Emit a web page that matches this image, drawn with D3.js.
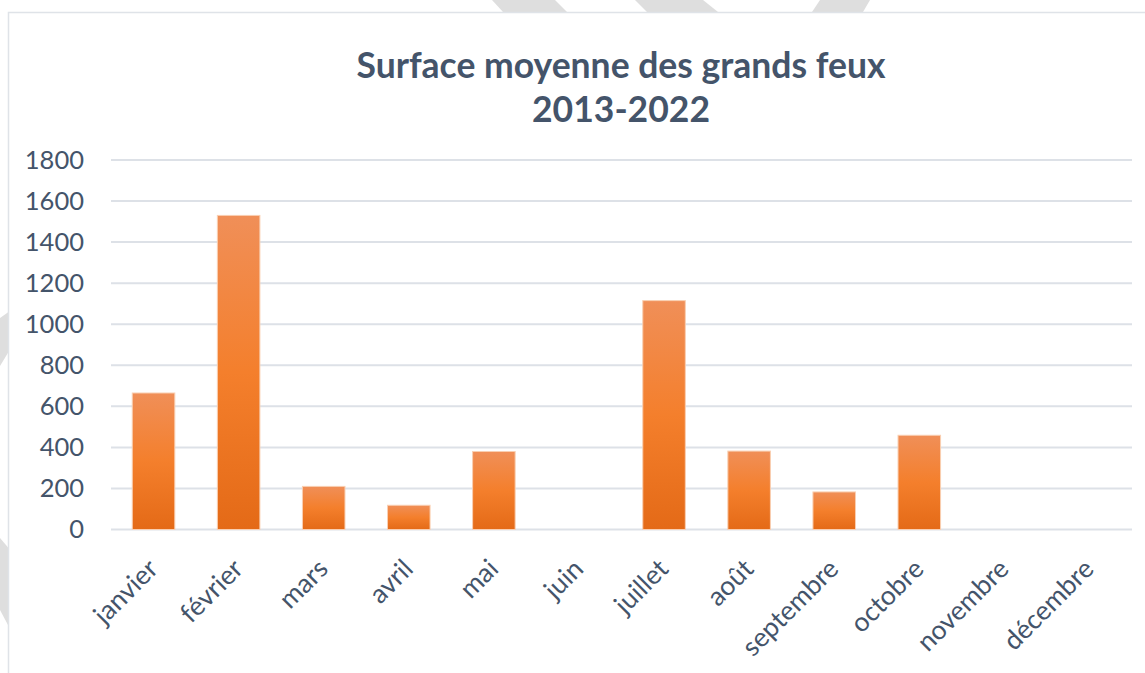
<!DOCTYPE html>
<html>
<head>
<meta charset="utf-8">
<script src="https://cdn.jsdelivr.net/npm/d3@7"></script>
<style>
  html, body { margin: 0; padding: 0; background: #ffffff; }
  svg { display: block; }
  text { font-family: Lato, "Open Sans", sans-serif; }
</style>
</head>
<body>
<svg id="chart" width="1145" height="673"></svg>
<script>
// Surface moyenne des grands feux par mois, 2013-2022
const months = ["janvier", "février", "mars", "avril", "mai", "juin",
                "juillet", "août", "septembre", "octobre", "novembre", "décembre"];
const surfaces = [665, 1530, 210, 118, 380, 0, 1115, 382, 183, 459, 0, 0];
const yTicks = [0, 200, 400, 600, 800, 1000, 1200, 1400, 1600, 1800];
const titleLines = ["Surface moyenne des grands feux", "2013-2022"];

const W = 1145, H = 673;
const textColor = "#44546a";
const gridColor = "#dde1e7";

const svg = d3.select("#chart");

// Background decoration: grey diagonal strokes around the chart frame
const deco = [
  [[492, 0], [555, 0], [567, 12], [503, 12]],
  [[635, 0], [703, 0], [718, 12], [647, 12]],
  [[820, 0], [870, 0], [863, 12], [812, 12]],
  [[0, 318], [8.5, 312], [8.5, 352], [0, 366]],
  [[0, 538], [8.5, 548], [8.5, 626], [0, 610]]
];
svg.append("g").selectAll("path").data(deco).join("path")
  .attr("d", d => "M" + d.map(p => p.join(",")).join("L") + "Z")
  .attr("fill", "#dedede");

// Chart frame
svg.append("rect")
  .attr("x", 8.5).attr("y", 12.5)
  .attr("width", W + 20).attr("height", H + 20)
  .attr("fill", "#ffffff")
  .attr("stroke", "#dfe3e8").attr("stroke-width", 1.5);

// Bar gradient
const defs = svg.append("defs");
const grad = defs.append("linearGradient")
  .attr("id", "barGrad").attr("x1", 0).attr("y1", 0).attr("x2", 0).attr("y2", 1);
grad.append("stop").attr("offset", "0%").attr("stop-color", "#f08f58");
grad.append("stop").attr("offset", "50%").attr("stop-color", "#f47f2c");
grad.append("stop").attr("offset", "100%").attr("stop-color", "#e46a17");

const x = d3.scaleBand()
  .domain(months)
  .range([111, 1132])
  .paddingInner(0.5)
  .paddingOuter(0.25);

const y = d3.scaleLinear()
  .domain([0, 1800])
  .range([529.5, 160]);

// Gridlines
svg.append("g").selectAll("line").data(yTicks).join("line")
  .attr("x1", 111).attr("x2", 1132)
  .attr("y1", d => y(d)).attr("y2", d => y(d))
  .attr("stroke", gridColor).attr("stroke-width", 2);

// Y axis labels
const yAxis = svg.append("g")
  .attr("transform", "translate(84,0)")
  .call(d3.axisLeft(y).tickValues(yTicks).tickSize(0).tickPadding(0).tickFormat(d3.format("d")));
yAxis.select(".domain").remove();
yAxis.selectAll("text")
  .attr("fill", textColor)
  .style("font-size", "25.5px")
  .style("font-family", "Lato, sans-serif");

// Bars
svg.append("g").selectAll("rect").data(months.map((m, i) => ({ m, v: surfaces[i] })))
  .join("rect")
  .filter(d => d.v > 0)
  .attr("x", d => x(d.m))
  .attr("y", d => y(d.v))
  .attr("width", x.bandwidth())
  .attr("height", d => y(0) - y(d.v))
  .attr("fill", "url(#barGrad)")
  .attr("stroke", "#f9cfb2").attr("stroke-width", 1);

// X axis labels, rotated
const xAxis = svg.append("g")
  .attr("transform", `translate(0,${y(0)})`)
  .call(d3.axisBottom(x).tickSize(0).tickPadding(0));
xAxis.select(".domain").remove();
xAxis.selectAll(".tick text")
  .attr("fill", textColor)
  .style("font-size", "26.5px")
  .style("font-family", "Lato, sans-serif")
  .attr("text-anchor", "end")
  .attr("dy", null)
  .attr("y", 0)
  .attr("transform", "translate(6,41) rotate(-45)");

// Title
const title = svg.append("text")
  .attr("x", 621)
  .attr("text-anchor", "middle")
  .attr("fill", textColor)
  .style("font-weight", "bold")
  .style("font-size", "35.5px");
title.selectAll("tspan").data(titleLines).join("tspan")
  .attr("x", 621)
  .attr("y", (d, i) => 78 + i * 44)
  .text(d => d);
</script>
</body>
</html>
